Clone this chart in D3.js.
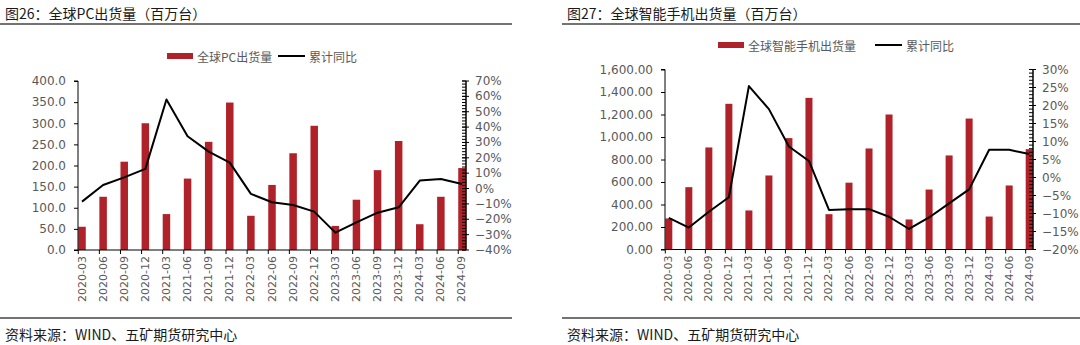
<!DOCTYPE html>
<html><head><meta charset="utf-8">
<script src="https://cdn.jsdelivr.net/npm/d3@7/dist/d3.min.js"></script>
<style>body{margin:0;background:#fff}svg{display:block}</style>
</head><body>
<svg id="c" width="1080" height="345"></svg>
<script>
const categories = ["2020-03","2020-06","2020-09","2020-12","2021-03","2021-06","2021-09","2021-12","2022-03","2022-06","2022-09","2022-12","2023-03","2023-06","2023-09","2023-12","2024-03","2024-06","2024-09"];
const pcShip = [55,126,209,300,85,169,256,349,81,154,229,294,57,119,189,258,61,126,194];
const pcYoY = [-8.5,2.3,7.3,12.8,58,34,24,16.9,-3.5,-8.9,-10.7,-15,-28.7,-22,-15.7,-12.2,5.2,6.2,3];
const phoneShip = [276,554,907,1295,347,658,990,1348,314,594,898,1200,267,533,836,1164,293,569,892];
const phoneYoY = [-11.2,-13.9,-9.5,-5.5,25.4,19,8.6,4.6,-9.0,-8.8,-8.8,-10.9,-14.3,-11.1,-7.2,-3.3,7.7,7.7,6.5];
const leftTicks = [0,50,100,150,200,250,300,350,400];
const rightTicksPC = [-40,-30,-20,-10,0,10,20,30,40,50,60,70];
const phoneTicks = [0,200,400,600,800,1000,1200,1400,1600];
const rightTicksPhone = [-20,-15,-10,-5,0,5,10,15,20,25,30];

const svg = d3.select("#c");
const RED = "#AF2229", GRAY = "#595959";
const CJK = "'Noto Sans CJK SC', sans-serif";
const NUM = "'DejaVu Sans', sans-serif";

function panel(o){
  const g = svg.append("g");
  // title & rules
  g.append("text").attr("x", o.x0+5).attr("y", 13).attr("dominant-baseline","central")
    .attr("font-family", CJK).attr("font-size", 14).attr("fill","#1a1a1a").text(o.title);
  g.append("line").attr("x1", o.x0).attr("x2", o.x1).attr("y1", 24).attr("y2", 24).attr("stroke","#444").attr("stroke-width",1.5);
  g.append("line").attr("x1", o.x0).attr("x2", o.x1).attr("y1", 318).attr("y2", 318).attr("stroke","#444").attr("stroke-width",1.5);
  g.append("text").attr("x", o.x0+5).attr("y", 334).attr("dominant-baseline","central")
    .attr("font-family", CJK).attr("font-size", 14).attr("fill","#1a1a1a").text("资料来源：WIND、五矿期货研究中心");

  const x = d3.scalePoint().domain(categories).range([o.pl, o.pr]).padding(0.19);
  const y = d3.scaleLinear().domain(o.yDom).range([o.pb, o.pt]);
  const y2 = d3.scaleLinear().domain(o.y2Dom).range([o.pb, o.pt]);

  // bars
  g.selectAll(".bar").data(o.bars).enter().append("rect")
    .attr("x",(d,i)=>x(categories[i])-o.bw/2).attr("width",o.bw)
    .attr("y",d=>y(d)).attr("height",d=>y(0)-y(d)).attr("fill",RED);
  // line
  g.append("path").datum(o.line).attr("fill","none").attr("stroke","#000").attr("stroke-width",2)
    .attr("stroke-linejoin","round")
    .attr("d", d3.line().x((d,i)=>x(categories[i])).y(d=>y2(d)));

  // left axis
  const la = g.append("g").attr("transform",`translate(${o.pl},0)`)
    .call(d3.axisLeft(y).tickValues(o.yTicks).tickSize(4).tickPadding(8).tickFormat(o.yFmt));
  la.select(".domain").attr("stroke","#000").attr("d",`M-4,${o.pb}H0V${o.pt}H-4`);
  la.selectAll(".tick line").attr("stroke","#000");
  la.selectAll("text").attr("font-family",NUM).attr("font-size",12).attr("fill",GRAY);

  // right axis with minor ticks
  const ra = g.append("g").attr("transform",`translate(${o.pr},0)`);
  const minor = d3.range(o.y2Dom[0], o.y2Dom[1]+0.001, o.minorStep);
  ra.selectAll(".mt").data(minor).enter().append("line")
    .attr("x1",-4).attr("x2",0).attr("y1",d=>y2(d)).attr("y2",d=>y2(d)).attr("stroke","#000").attr("stroke-width",1);
  ra.append("line").attr("x1",0).attr("x2",0).attr("y1",o.pt).attr("y2",o.pb).attr("stroke","#000").attr("stroke-width",1.5);
  ra.selectAll(".rt").data(o.y2Ticks).enter().append("line")
    .attr("x1",-4).attr("x2",3).attr("y1",d=>y2(d)).attr("y2",d=>y2(d)).attr("stroke","#000");
  ra.selectAll(".rl").data(o.y2Ticks).enter().append("text")
    .attr("x",9).attr("y",d=>y2(d)).attr("dominant-baseline","central")
    .attr("font-family",NUM).attr("font-size",12).attr("fill",GRAY)
    .text(d=>(d<0?"−"+Math.abs(d):d)+"%");

  // x axis
  const xa = g.append("g").attr("transform",`translate(0,${o.pb})`);
  xa.append("line").attr("x1",o.pl).attr("x2",o.pr).attr("stroke","#000").attr("stroke-width",1.2);
  xa.selectAll(".xt").data(categories).enter().append("line")
    .attr("x1",d=>x(d)-o.bw/2).attr("x2",d=>x(d)-o.bw/2).attr("y1",0).attr("y2",4).attr("stroke","#000");
  xa.selectAll(".xl").data(categories).enter().append("text")
    .attr("transform",d=>`translate(${x(d)},6) rotate(-90)`)
    .attr("text-anchor","end").attr("dominant-baseline","central")
    .attr("font-family",NUM).attr("font-size",11).attr("fill",GRAY).text(d=>d);

  // legend
  const lg = g.append("g");
  lg.append("rect").attr("x",o.leg[0]).attr("y",o.legY-3).attr("width",26).attr("height",6).attr("fill",RED);
  lg.append("text").attr("x",o.leg[0]+30).attr("y",o.legY).attr("dominant-baseline","central")
    .attr("font-family",CJK).attr("font-size",12).attr("fill",GRAY).text(o.barName);
  lg.append("line").attr("x1",o.leg[1]).attr("x2",o.leg[1]+27).attr("y1",o.legY).attr("y2",o.legY).attr("stroke","#000").attr("stroke-width",2);
  lg.append("text").attr("x",o.leg[1]+31).attr("y",o.legY).attr("dominant-baseline","central")
    .attr("font-family",CJK).attr("font-size",12).attr("fill",GRAY).text("累计同比");
}

panel({x0:0,x1:512,title:"图26：全球PC出货量（百万台）",
  pl:78,pr:466,pt:81,pb:250,yDom:[0,400],y2Dom:[-40,70],bw:7.5,
  bars:pcShip,line:pcYoY,yTicks:leftTicks,yFmt:d3.format(".1f"),
  y2Ticks:rightTicksPC,minorStep:2,leg:[167,278],legY:56,barName:"全球PC出货量"});
panel({x0:562,x1:1080,title:"图27：全球智能手机出货量（百万台）",
  pl:665,pr:1033,pt:69.5,pb:249.5,yDom:[0,1600],y2Dom:[-20,30],bw:7,
  bars:phoneShip,line:phoneYoY,yTicks:phoneTicks,yFmt:d3.format(",.2f"),
  y2Ticks:rightTicksPhone,minorStep:1,leg:[718,875],legY:45,barName:"全球智能手机出货量"});
</script>
</body></html>
